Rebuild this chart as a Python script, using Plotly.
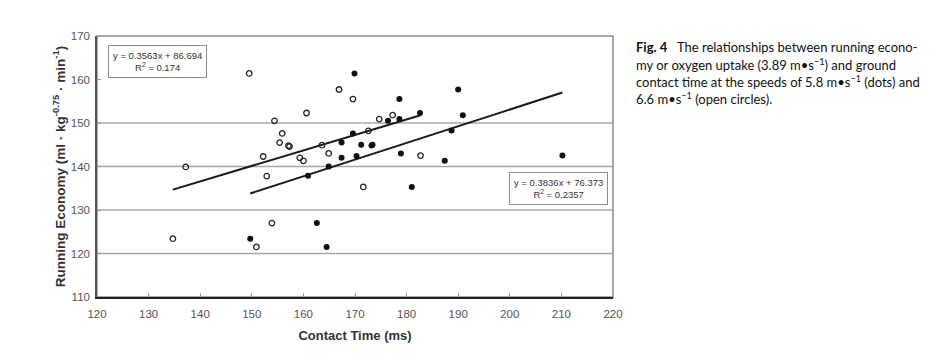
import plotly.graph_objects as go

# ---- data ----
open_x = [149.5, 152.2, 137.2, 166.9, 169.6, 160.6, 154.4, 174.7, 177.3, 155.9, 172.6, 155.4,
          157.1, 157.3, 163.6, 159.3, 160.0, 164.9, 182.7, 152.9, 171.6, 153.9, 134.7, 150.9]
open_y = [161.4, 142.3, 139.9, 157.7, 155.5, 152.3, 150.5, 150.9, 151.8, 147.6, 148.2, 145.5,
          144.8, 144.6, 144.9, 142.0, 141.3, 143.0, 142.5, 137.8, 135.3, 127.0, 123.4, 121.5]

dot_x = [169.9, 178.6, 182.6, 176.4, 178.6, 169.6, 167.4, 171.2, 173.2, 173.4, 167.4, 170.3,
         178.9, 164.9, 160.9, 181.0, 162.6, 164.5, 149.7, 190.0, 190.9, 188.7, 187.4, 210.2]
dot_y = [161.4, 155.5, 152.3, 150.5, 150.9, 147.6, 145.5, 145.0, 144.8, 145.0, 142.0, 142.4,
         143.0, 140.0, 137.9, 135.3, 127.0, 121.5, 123.4, 157.7, 151.8, 148.3, 141.3, 142.5]

open_fit = (0.3563, 86.694, 0.174)
dot_fit = (0.3836, 76.373, 0.2357)

x_ticks = [120, 130, 140, 150, 160, 170, 180, 190, 200, 210, 220]
y_ticks = [110, 120, 130, 140, 150, 160, 170]
grid_y = [120, 130, 140, 150]

caption_lines = [
    "<b>Fig. 4</b>   The relationships between running econo-",
    "my or oxygen uptake (3.89 m\u2022s<sup>\u22121</sup>) and ground",
    "contact time at the speeds of 5.8 m\u2022s<sup>\u22121</sup> (dots) and",
    "6.6 m\u2022s<sup>\u22121</sup> (open circles).",
]

FONT = "Arial, Liberation Sans, sans-serif"

fig = go.Figure()

# regression lines from each series' x extent
for xs, (m, b, _) in [(open_x, open_fit), (dot_x, dot_fit)]:
    x0, x1 = min(xs), max(xs)
    fig.add_trace(go.Scatter(x=[x0, x1], y=[m * x0 + b, m * x1 + b], mode="lines",
                             line=dict(color="#1a1a1a", width=2), hoverinfo="skip",
                             showlegend=False))

fig.add_trace(go.Scatter(x=open_x, y=open_y, mode="markers", showlegend=False,
                         marker=dict(symbol="circle-open", size=5.5, color="#222",
                                     line=dict(width=1.3, color="#222"))))
fig.add_trace(go.Scatter(x=dot_x, y=dot_y, mode="markers", showlegend=False,
                         marker=dict(symbol="circle", size=6, color="#111")))

# grid lines
for g in grid_y:
    fig.add_shape(type="line", xref="paper", x0=0, x1=1, yref="y", y0=g, y1=g,
                  line=dict(color="#a8a8a8", width=1.5), layer="below")
# frame
fig.add_shape(type="rect", xref="paper", yref="paper", x0=0, x1=1, y0=0, y1=1,
              line=dict(color="#8c8c8c", width=1.5), layer="below")

fig.update_xaxes(range=[120, 220], tickvals=x_ticks, showgrid=False, zeroline=False,
                 automargin=False,
                 showline=True, linecolor="#222", linewidth=2,
                 ticks="inside", ticklen=4, tickcolor="#999", ticklabelstandoff=5,
                 tickfont=dict(family=FONT, size=11.5, color="#555"),
                 title=dict(text="<b>Contact Time (ms)</b>", standoff=12,
                            font=dict(family=FONT, size=13, color="#333")))
fig.update_yaxes(range=[110, 170], tickvals=y_ticks, showgrid=False, zeroline=False,
                 automargin=False,
                 showline=True, linecolor="#555", linewidth=1.5,
                 ticks="inside", ticklen=4, tickcolor="#999", ticklabelstandoff=3,
                 tickfont=dict(family=FONT, size=11.5, color="#555"),
                 title=dict(text="<b>Running Economy (ml \u00b7 kg<sup>-0.75</sup> \u00b7 min<sup>-1</sup>)</b>",
                            standoff=2, font=dict(family=FONT, size=13.5, color="#333")))

box_font = dict(family=FONT, size=9.5, color="#333")
fig.add_annotation(xref="paper", yref="paper", x=0.021, y=0.966, xanchor="left", yanchor="top",
                   text=f"y = {open_fit[0]}x + {open_fit[1]}<br>R<sup>2</sup> = {open_fit[2]}",
                   showarrow=False, align="center", font=box_font, bgcolor="white",
                   bordercolor="#8c8c8c", borderwidth=1, borderpad=4)
fig.add_annotation(xref="paper", yref="paper", x=0.798, y=0.479, xanchor="left", yanchor="top",
                   text=f"y = {dot_fit[0]}x + {dot_fit[1]}<br>R<sup>2</sup> = {dot_fit[2]}",
                   showarrow=False, align="center", font=box_font, bgcolor="white",
                   bordercolor="#8c8c8c", borderwidth=1, borderpad=4)

cap_font = dict(family="Lato, Noto Sans, sans-serif", size=13, color="#111")
for i, line in enumerate(caption_lines):
    fig.add_annotation(xref="paper", yref="paper", x=(634 - 97) / 516,
                       y=1 - (47 + 17.3 * i - 36) / 261,
                       xanchor="left", yanchor="middle", text=line, showarrow=False,
                       align="left", font=cap_font)

# the page body adds an 8px margin, so the figure is offset by 8px and sized to fit
fig.update_layout(width=939, height=353, margin=dict(l=89, r=334, t=28, b=64),
                  plot_bgcolor="white", paper_bgcolor="white", template="none")

fig.write_html("out.html")
